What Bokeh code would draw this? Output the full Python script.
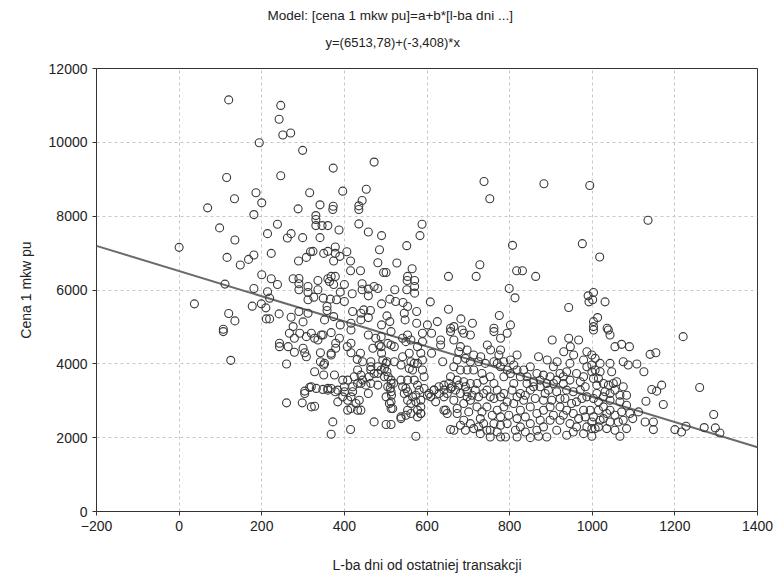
from bokeh.plotting import figure
from bokeh.models import Title, SingleIntervalTicker, Range1d
from bokeh.embed import file_html
from bokeh.resources import INLINE
import numpy as np

# ---- data: days since last transaction (x) and price per sqm (y) ----
days_top = [120, 246, 242, 270, 251, 194, 299, 115, 246, 186, 134, 200, 69, 288, 316,
            373, 472, 396, 453, 341, 373, 443, 435, 738, 752, 883, 994]
price_top = [11150, 11000, 10625, 10253, 10200, 9990, 9783, 9049, 9094, 8633, 8470, 8361, 8225, 8198, 8633,
             9302, 9465, 8677, 8731, 8307, 8270, 8424, 8280, 8940, 8470, 8877, 8832]

days_left = [181, 98, 238, 135, 214, 271, 262, 299, 0, 116, 181, 168, 148, 223, 318, 289, 308, 200, 111, 223,
             238, 276, 290, 290, 290, 312, 312, 181, 214, 219, 37, 177, 199, 210, 120, 135, 211, 219, 242, 312,
             290, 271, 312, 300, 276, 107]
price_left = [8043, 7682, 7780, 7356, 7527, 7527, 7410, 7418, 7155, 6883, 6948, 6829, 6677, 6992, 7038, 6785, 6883,
              6413, 6160, 6304, 6149, 6304, 6313, 6168, 6005, 6095, 5932, 6041, 5951, 5779, 5625, 5562, 5625, 5516,
              5362, 5163, 5217, 5217, 5353, 5734, 5416, 5263, 5372, 5136, 5009, 4937]

days_mid = [331, 372, 435, 331, 346, 360, 331, 387, 435, 458, 490, 588, 583, 341, 324, 350, 360, 378, 378, 389,
            406, 374, 415, 485, 551, 481, 527, 415, 439, 495, 501, 564, 553, 552, 570, 570, 570, 551, 652, 608,
            652, 336, 360, 368, 378, 364, 400, 374, 336, 390, 419, 443, 443, 458, 458, 472, 481, 522, 326, 349,
            366, 381, 400, 358, 358, 490, 510, 524, 542, 553, 420, 440, 447, 463, 458, 440, 416, 390, 374, 352,
            503, 510, 490, 545, 547, 575, 575, 601, 625]
price_mid = [8016, 8179, 8179, 7745, 7745, 7745, 7908, 7627, 7790, 7573, 7473, 7780, 7473, 7418, 7047, 6992, 7047,
             7165, 6992, 6911, 7038, 6785, 6785, 7092, 7201, 6739, 6731, 6522, 6522, 6476, 6476, 6576, 6368, 6259,
             6259, 6095, 5915, 6005, 6368, 5679, 5480, 6259, 6304, 6368, 6368, 6231, 6149, 6149, 6005, 5943, 5897,
             6168, 6005, 6024, 5842, 6095, 6041, 6005, 5806, 5779, 5752, 5734, 5688, 5552, 5443, 5625, 5752, 5688,
             5660, 5552, 5416, 5372, 5462, 5443, 5253, 5190, 5100, 5054, 5280, 5190, 5299, 5144, 5054, 5372, 5190,
             5416, 5100, 5054, 5144]

days_right = [807, 976, 728, 719, 817, 831, 863, 799, 813, 990, 992, 943, 775, 682, 710, 802, 762, 657, 685, 665,
              1135, 1018, 1003, 1001, 1031, 1013, 1003, 1036, 1003]
price_right = [7210, 7255, 6685, 6368, 6522, 6522, 6368, 6041, 5788, 5842, 5679, 5525, 5308, 5217, 5100, 5054,
               4964, 4964, 4918, 5009, 7889, 6893, 5932, 5734, 5679, 5253, 5144, 4964, 5009]

days_low1 = [107, 125, 243, 243, 267, 279, 292, 308, 264, 279, 300, 304, 308, 260, 316, 304, 304, 260, 298, 320]
price_low1 = [4873, 4095, 4557, 4465, 4829, 4693, 4829, 4737, 4465, 4312, 4421, 4302, 4193, 3995, 3361, 3261,
              3198, 2943, 2943, 2834]

days_low2 = [336, 348, 368, 388, 379, 379, 368, 342, 342, 350, 407, 416, 416, 439, 431, 444, 464, 469, 489, 490,
             513, 503, 521, 537, 541, 557, 561, 585, 589, 611, 633, 638, 328, 350, 320, 332, 348, 360, 376, 378,
             396, 400, 420, 424, 432, 400, 384, 396, 420, 440, 460, 464, 481, 489, 497, 501, 464, 481, 458, 505,
             513, 519, 513, 501, 509, 513, 553, 549, 553, 565, 569, 577, 589, 593, 577, 565, 573, 585, 585, 585,
             577, 605, 617, 629, 641, 653, 621, 645, 641, 537, 549, 472, 501, 513, 440, 432, 408, 416, 372, 328,
             415, 368, 573, 657, 416, 458, 489, 513, 553, 561, 589, 611, 633]
price_low2 = [4647, 4783, 4845, 4693, 4557, 4421, 4239, 4302, 4057, 3967, 4465, 4557, 4302, 4285, 4122, 4057,
              4057, 4421, 4465, 4285, 4511, 4057, 4057, 3967, 4193, 4285, 4057, 4285, 4103, 4285, 4511, 4057,
              3785, 3696, 3378, 3334, 3307, 3334, 3696, 3243, 3560, 3378, 3378, 3650, 3470, 3243, 2970, 3106,
              3243, 3470, 3650, 3831, 3742, 3831, 3650, 4013, 3470, 3424, 3198, 3378, 3560, 3470, 3243, 3106,
              2927, 2791, 3560, 3334, 3243, 3831, 3560, 4013, 3831, 3650, 3424, 3106, 2970, 3016, 2834, 2655,
              2745, 3198, 3288, 3378, 3424, 3470, 2970, 2745, 3106, 2563, 2609, 2427, 2356, 2356, 2745, 2745,
              2745, 2791, 2427, 2853, 2220, 2092, 2038, 2220, 4918, 4782, 4737, 4873, 4782, 4646, 4827, 4827, 4646]

days_low2b = [320, 328, 344, 368, 352, 476, 484, 505, 521, 541, 549, 577, 589, 557, 569, 493, 497, 503, 506, 513,
              511, 514, 513, 517, 464, 481, 472, 444, 452, 432, 440, 408, 368, 360, 384, 416, 408, 428, 436, 537,
              541, 545, 553, 561, 573, 581, 593, 601, 609, 617, 629, 641, 649, 657, 553, 561, 577, 585, 641, 649,
              537]
price_low2b = [4827, 4692, 4782, 4284, 4012, 4691, 4510, 4555, 4465, 4691, 4601, 4465, 4601, 3876, 4012, 4103,
               3876, 3786, 3650, 3468, 3332, 3151, 2970, 2789, 3921, 3921, 3740, 3559, 3423, 3831, 3695, 3559,
               3332, 3287, 3287, 3106, 3015, 2925, 3015, 3559, 3378, 3197, 3015, 2925, 3151, 3287, 3332, 3151,
               3106, 3287, 3197, 3287, 3197, 3332, 2744, 2653, 2562, 2653, 2744, 2653, 2517]

days_low3 = [657, 665, 689, 705, 681, 697, 713, 730, 746, 754, 778, 774, 762, 778, 794, 818, 802, 786, 870, 891,
             915, 903, 943, 967, 931, 955, 947, 987, 979,
             665, 681, 697, 713, 733, 657, 673, 689, 705, 721, 737, 753, 762, 786, 802, 818, 834, 842, 866, 882,
             898, 922, 938, 962, 979, 987,
             669, 681, 697, 717, 737, 753, 770, 786, 806, 826, 850, 874, 894, 914, 938, 954, 971, 987,
             665, 689, 705, 721, 745, 770, 786, 810, 826, 850, 866, 882, 898, 922, 938, 954, 979,
             673, 689, 729, 737, 762, 778, 794, 826, 850, 882, 898, 922, 946, 962, 987,
             665, 693, 713, 753, 778, 753, 729, 850, 890, 938, 979,
             673, 705, 770, 850, 906, 946, 697, 810, 858, 906, 930, 834, 882, 922, 962]
price_low3 = [4873, 4647, 4829, 4783, 4465, 4375, 4239, 4193, 4511, 4375, 4375, 4239, 4873, 4693, 4829, 4239,
              4103, 4057, 4193, 4103, 4057, 4647, 4693, 4647, 4329, 4239, 4465, 4329, 4103,
              3921, 3831, 3831, 3831, 3740, 3650, 3559, 3514, 3468, 3468, 3559, 3650, 3468, 3650, 3740, 3831,
              3831, 3650, 3740, 3695, 3650, 3740, 3786, 3740, 3650, 3921,
              3287, 3197, 3242, 3287, 3197, 3106, 3287, 3197, 3287, 3197, 3287, 3378, 3287, 3242, 3287, 3242,
              3287, 3106,
              3015, 2925, 3015, 2834, 2834, 2744, 2834, 2925, 2744, 2834, 2653, 2744, 2834, 2834, 2744, 2653,
              2744,
              2653, 2472, 2517, 2381, 2381, 2336, 2381, 2291, 2381, 2291, 2472, 2472, 2381, 2291, 2291,
              2200, 2200, 2245, 2200, 2019, 2019, 2109, 2001, 2019, 2064, 2109,
              4103, 4057, 4012, 3921, 3921, 4012, 3106, 3468, 3514, 3468, 3468, 3015, 3015, 3061, 2970]

days_low3b = [677, 693, 725, 741, 762, 778, 794, 810, 826, 842, 858, 874, 890, 914, 930, 946, 971, 983,
              661, 677, 693, 709, 725, 745, 762, 778, 794, 818, 838, 862, 886, 902, 934, 950, 975,
              673, 701, 733, 758, 778, 798, 818, 838, 874, 906, 930, 967, 983,
              681, 705, 725, 745, 770, 814, 838, 866, 914, 954, 790, 818, 870]
price_low3b = [4329, 4148, 4057, 4012, 4057, 3921, 3831, 3967, 3650, 3468, 3378, 3559, 3468, 3559, 3650, 3559,
               3514, 3378,
               3378, 3423, 3378, 3151, 3106, 3287, 3061, 3106, 2970, 3106, 3151, 3061, 3197, 3015, 3061, 2925,
               3061,
               2789, 2698, 2698, 2608, 2562, 2608, 2517, 2562, 2472, 2608, 2608, 2517, 2562,
               2336, 2381, 2291, 2200, 2155, 2200, 2155, 2200, 2200, 2155, 2019, 2019, 2037]

days_far = [1003, 1039, 1043, 1220, 1055, 1071, 1090, 1140, 1154, 999, 1007, 1075, 1087, 1108, 999, 999, 1019,
            1015, 1047, 1125, 1003, 1027, 1039, 1051, 1059, 1075, 1055, 1144, 1156, 1168, 1260, 1083, 1067, 1043,
            1027, 1011, 1003, 1015, 1130, 1172, 1027, 1043, 1055, 1083, 995, 1003, 1027, 1043, 1112, 1098, 1075,
            1063, 1128, 1148, 1148, 999, 999, 1015, 1035, 1055, 1067, 1083, 1200, 1216, 1227, 1271, 1298, 1294,
            1309, 999, 1043, 1019,
            1007, 1011, 1031, 1043, 1067, 1015, 1035, 1071, 1019, 1091, 1007]
price_far = [4918, 4918, 4782, 4737, 4465, 4528, 4465, 4257, 4302, 4238, 4148, 4057, 3967, 3994, 3967, 3786,
             3786, 3604, 3786, 3786, 3604, 3468, 3423, 3468, 3514, 3378, 3287, 3305, 3260, 3423, 3360, 3151, 2970,
             3015, 3106, 3197, 3061, 2970, 2988, 2898, 2834, 2744, 2608, 2880, 2744, 2562, 2517, 2426, 2698, 2517,
             2472, 2426, 2426, 2426, 2218, 2426, 2245, 2291, 2245, 2200, 2037, 2245, 2218, 2155, 2309, 2273, 2264,
             2626, 2128, 2037, 4012, 4012,
             3831, 3423, 3242, 3197, 3151, 2744, 2653, 2698, 2472, 2653, 2245]

# regression: y = a + b*x
intercept = 6513.78
slope = -3.408
x_min, x_max = -200, 1400
y_min, y_max = 0, 12000

title_1 = "Model: [cena 1 mkw pu]=a+b*[l-ba dni ...]"
title_2 = "y=(6513,78)+(-3,408)*x"
x_label = "L-ba dni od ostatniej transakcji"
y_label = "Cena 1 mkw pu"

days = (days_top + days_left + days_mid + days_right + days_low1 + days_low2 + days_low2b
        + days_low3 + days_low3b + days_far)
price = (price_top + price_left + price_mid + price_right + price_low1 + price_low2 + price_low2b
         + price_low3 + price_low3b + price_far)

FONT = "Liberation Sans"

p = figure(width=774, height=575, output_backend="svg", toolbar_location=None,
           x_range=Range1d(x_min, x_max), y_range=Range1d(y_min, y_max),
           min_border_left=96, min_border_right=17, min_border_top=68, min_border_bottom=56)

p.background_fill_color = "white"
p.border_fill_color = "white"
p.outline_line_color = "#333333"
p.outline_line_width = 1

for ax in (p.xaxis[0], p.yaxis[0]):
    ax.axis_line_color = None
    ax.major_tick_line_color = "#333333"
    ax.major_tick_out = 4
    ax.major_tick_in = 0
    ax.minor_tick_line_color = None
    ax.major_label_text_font = FONT
    ax.major_label_text_font_size = "14px"
    ax.major_label_text_color = "#222222"
    ax.axis_label_text_font = FONT
    ax.axis_label_text_font_size = "14px"
    ax.axis_label_text_font_style = "normal"
    ax.axis_label_text_color = "#222222"

p.xaxis.ticker = SingleIntervalTicker(interval=200)
p.yaxis.ticker = SingleIntervalTicker(interval=2000)
p.xaxis.axis_label = x_label
p.yaxis.axis_label = y_label
p.xaxis.axis_label_standoff = 23
p.yaxis.axis_label_standoff = 12

p.xgrid.ticker = SingleIntervalTicker(interval=200)
p.ygrid.ticker = SingleIntervalTicker(interval=2000)
for g in (p.xgrid[0], p.ygrid[0]):
    g.grid_line_color = "#c8c8c8"
    g.grid_line_dash = "3 3"
    g.grid_line_width = 1

# regression line
lx = np.array([x_min, x_max], dtype=float)
p.line(lx, intercept + slope * lx, line_color="#6a6a6a", line_width=2)

p.scatter(days, price, marker="circle", size=8, fill_color=None,
          line_color="#3a3a3a", line_width=1.1)

spacer = Title(text=" ", text_font=FONT, text_font_size="2px", standoff=10)
t2 = Title(text=title_2, align="left", offset=229, text_font=FONT, text_font_size="13px",
           text_font_style="normal", text_color="#222222")
t1 = Title(text=title_1, align="left", offset=171, text_font=FONT, text_font_size="13.5px",
           text_font_style="normal", text_color="#222222")
p.add_layout(spacer, "above")
p.add_layout(t2, "above")
p.add_layout(t1, "above")

open("out.html", "w").write(file_html(p, INLINE))
